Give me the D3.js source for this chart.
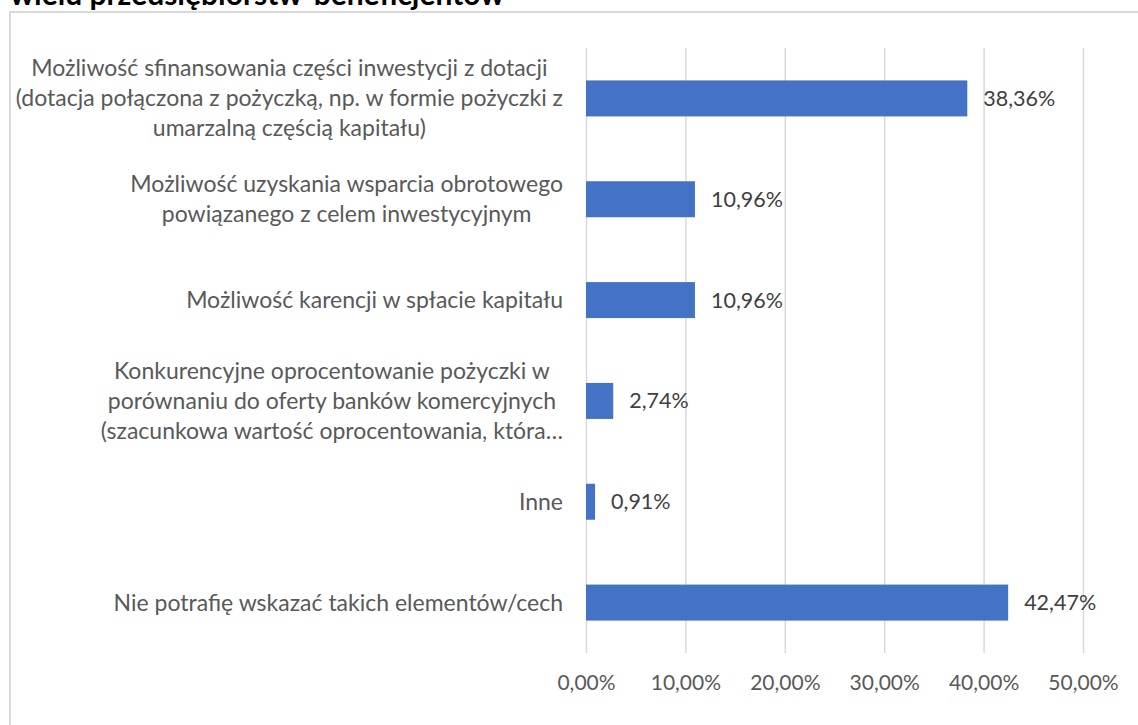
<!DOCTYPE html>
<meta charset="utf-8">
<style>
  body { margin: 0; background: #fff; }
  svg text { font-family: Lato, "Open Sans", sans-serif; }
</style>
<body>
<script src="https://d3js.org/d3.v7.min.js"></script>
<script>
// chart data
var categories = [
  ["Możliwość sfinansowania części inwestycji z dotacji",
   "(dotacja połączona z pożyczką, np. w formie pożyczki z",
   "umarzalną częścią kapitału)"],
  ["Możliwość uzyskania wsparcia obrotowego",
   "powiązanego z celem inwestycyjnym"],
  ["Możliwość karencji w spłacie kapitału"],
  ["Konkurencyjne oprocentowanie pożyczki w",
   "porównaniu do oferty banków komercyjnych",
   "(szacunkowa wartość oprocentowania, która…"],
  ["Inne"],
  ["Nie potrafię wskazać takich elementów/cech"]
];
var values = [0.3836, 0.1096, 0.1096, 0.0274, 0.0091, 0.4247];
var ticks = [0, 0.1, 0.2, 0.3, 0.4, 0.5];
var title = "wielu przedsiębiorstw-beneficjentów";

var W = 1138, H = 725;
var fmt = function(v) { return (v * 100).toFixed(2).replace(".", ",") + "%"; };

var svg = d3.select("body").append("svg")
    .attr("width", W)
    .attr("height", H);

// cut-off title above the chart frame (it is clipped in the source too)
svg.append("text")
    .attr("x", 10)
    .attr("y", 5)
    .attr("font-size", 30)
    .attr("font-weight", "bold")
    .attr("fill", "#000")
    .text(title);

// chart frame (left and top edges visible)
svg.append("path")
    .attr("d", "M10," + (H + 5) + "V12H" + (W + 5))
    .attr("fill", "none")
    .attr("stroke", "#d9d9d9")
    .attr("stroke-width", 2);

// scales
var x = d3.scaleLinear().domain([0, 0.5]).range([586, 1083]);
var y = d3.scaleBand()
    .domain(d3.range(values.length))
    .range([48, 653])
    .paddingInner(0.643)
    .paddingOuter(0.3215);

// gridlines + x tick labels
var xAxis = svg.append("g")
    .attr("transform", "translate(0,653)")
    .call(d3.axisBottom(x)
        .tickValues(ticks)
        .tickSize(-(653 - 48))
        .tickPadding(22)
        .tickFormat(fmt));
xAxis.select(".domain").remove();
xAxis.selectAll("line")
    .attr("stroke", "#d9d9d9")
    .attr("stroke-width", 1.5);
xAxis.selectAll("text")
    .attr("font-size", 21)
    .attr("fill", "#595959")
    .attr("font-family", "Lato, sans-serif");

// bars
svg.selectAll("rect.bar")
    .data(values)
  .enter().append("rect")
    .attr("class", "bar")
    .attr("x", x(0))
    .attr("y", function(d, i) { return y(i); })
    .attr("width", function(d) { return x(d) - x(0); })
    .attr("height", y.bandwidth())
    .attr("fill", "#4472c4");

// value labels
svg.selectAll("text.val")
    .data(values)
  .enter().append("text")
    .attr("class", "val")
    .attr("x", function(d) { return x(d) + 16; })
    .attr("y", function(d, i) { return y(i) + y.bandwidth() / 2; })
    .attr("dy", "0.35em")
    .attr("font-size", 21.5)
    .attr("fill", "#404040")
    .text(fmt);

// category labels: block right-aligned at the axis, lines centred in block
var lineH = 30, rightEdge = 563;
categories.forEach(function(lines, i) {
  var cy = y(i) + y.bandwidth() / 2;
  var g = svg.append("g");
  var t = g.selectAll("text")
      .data(lines)
    .enter().append("text")
      .attr("font-size", 23)
      .attr("fill", "#595959")
      .attr("text-anchor", "middle")
      .attr("y", function(d, j) { return cy + (j - (lines.length - 1) / 2) * lineH; })
      .attr("dy", "0.35em")
      .text(function(d) { return d; });
  var maxW = d3.max(t.nodes(), function(n) { return n.getComputedTextLength(); });
  t.attr("x", rightEdge - maxW / 2);
});
</script>
</body>
